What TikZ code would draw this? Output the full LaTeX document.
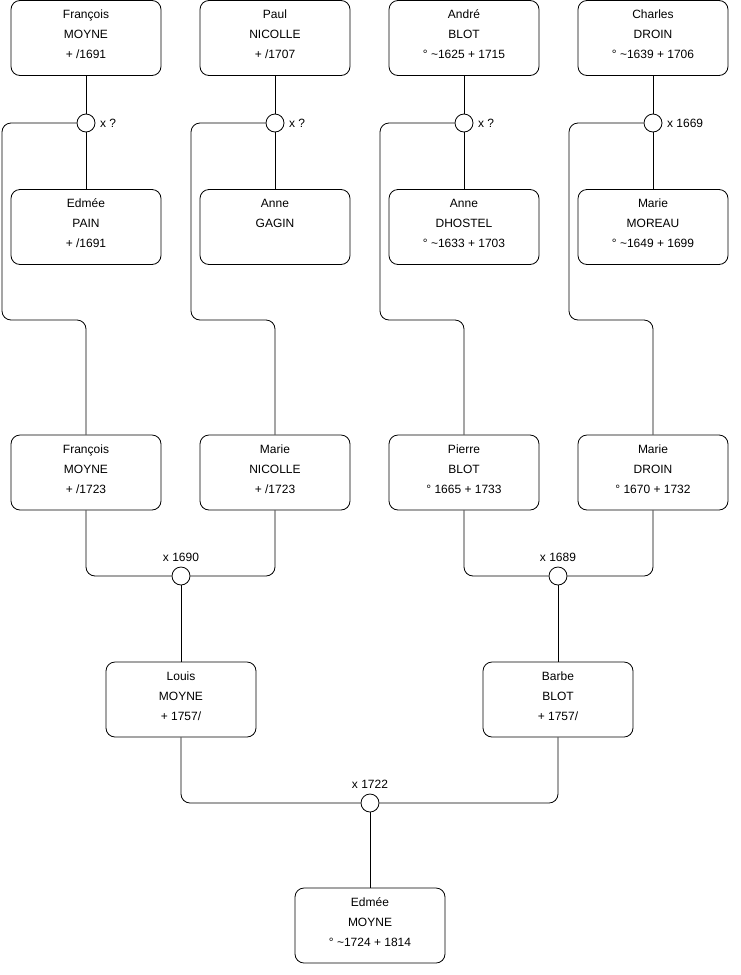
\documentclass[tikz,border=0pt]{standalone}
\usepackage{fontspec}
\setmainfont{Liberation Sans}
\usepackage{tikz}

\begin{document}
\begin{tikzpicture}[x=1pt, y=-1pt, line width=0.8pt,
  person/.style={draw, rounded corners=9pt, minimum width=150pt, minimum height=75pt, text depth=7pt, align=center, font=\fontsize{12}{20}\selectfont},
  union/.style={circle, draw, fill=white, minimum size=18pt, inner sep=0pt},
  link/.style={rounded corners=9pt},
  date/.style={font=\fontsize{12}{14}\selectfont}]
  \useasboundingbox (0,0) rectangle (740,975);
  % ancestors
  \node[person] (P1) at (86, 38) {François\\MOYNE\\+ /1691};
  \node[person] (P2) at (275, 38) {Paul\\NICOLLE\\+ /1707};
  \node[person] (P3) at (464, 38) {André\\BLOT\\° \textasciitilde1625 + 1715};
  \node[person] (P4) at (653, 38) {Charles\\DROIN\\° \textasciitilde1639 + 1706};
  \node[person] (S1) at (86, 227) {Edmée\\PAIN\\+ /1691};
  \node[person] (S2) at (275, 227) {Anne\\GAGIN\\\mbox{}};
  \node[person] (S3) at (464, 227) {Anne\\DHOSTEL\\° \textasciitilde1633 + 1703};
  \node[person] (S4) at (653, 227) {Marie\\MOREAU\\° \textasciitilde1649 + 1699};
  \node[union, label={[date, label distance=1pt]right:x ?}] (U1) at (86, 123) {};
  \node[union, label={[date, label distance=1pt]right:x ?}] (U2) at (275, 123) {};
  \node[union, label={[date, label distance=1pt]right:x ?}] (U3) at (464, 123) {};
  \node[union, label={[date, label distance=1pt]right:x 1669}] (U4) at (653, 123) {};
  % children
  \node[person] (C1) at (86, 472.5) {François\\MOYNE\\+ /1723};
  \node[person] (C2) at (275, 472.5) {Marie\\NICOLLE\\+ /1723};
  \node[person] (C3) at (464, 472.5) {Pierre\\BLOT\\° 1665 + 1733};
  \node[person] (C4) at (653, 472.5) {Marie\\DROIN\\° 1670 + 1732};
  \node[union, label={[date, label distance=1pt]above:x 1690}] (V1) at (181, 576) {};
  \node[union, label={[date, label distance=1pt]above:x 1689}] (V2) at (558, 576) {};
  \node[person] (G1) at (181, 699.5) {Louis\\MOYNE\\+ 1757/};
  \node[person] (G2) at (558, 699.5) {Barbe\\BLOT\\+ 1757/};
  \node[union, label={[date, label distance=1pt]above:x 1722}] (W1) at (370, 803) {};
  \node[person] (E1) at (370, 925.5) {Edmée\\MOYNE\\° \textasciitilde1724 + 1814};
  % links
  \foreach \i in {1,...,4} {
    \draw (P\i) -- (U\i);
    \draw (U\i) -- (S\i);
  }
  \draw[link] (U1.west) -| (2, 320) -| (C1.north);
  \draw[link] (U2.west) -| (191, 320) -| (C2.north);
  \draw[link] (U3.west) -| (380, 320) -| (C3.north);
  \draw[link] (U4.west) -| (569, 320) -| (C4.north);
  \draw[link] (C1.south) |- (V1.west);
  \draw[link] (C2.south) |- (V1.east);
  \draw[link] (C3.south) |- (V2.west);
  \draw[link] (C4.south) |- (V2.east);
  \draw (V1) -- (G1);
  \draw (V2) -- (G2);
  \draw[link] (G1.south) |- (W1.west);
  \draw[link] (G2.south) |- (W1.east);
  \draw (W1) -- (E1);
\end{tikzpicture}
\end{document}
